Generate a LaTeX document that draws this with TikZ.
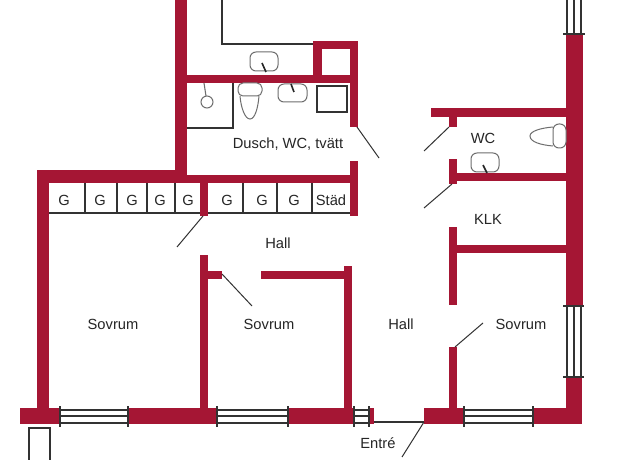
\documentclass[tikz,border=0pt]{standalone}
\usepackage{fontspec}
\setmainfont{Liberation Sans}
\definecolor{wallred}{RGB}{165,22,52}
\definecolor{inkdark}{RGB}{50,50,50}
\definecolor{fixgray}{RGB}{110,110,110}
\tikzset{
  wall/.style={fill=wallred,draw=none},
  thinline/.style={draw=inkdark,line width=1.1pt},
  doorline/.style={draw=inkdark,line width=1pt},
  fixture/.style={draw=fixgray,line width=1pt,fill=white},
  tick/.style={draw=black!85,line width=1.6pt},
  label/.style={font=\fontsize{14.7}{16}\selectfont,text=black!85,inner sep=0pt}
}
\newcommand{\hwin}[2]{%
  \draw[thinline] (#1,410)--(#2,410) (#1,416)--(#2,416) (#1,423)--(#2,423);
  \draw[thinline] (#1,406)--(#1,427) (#2,406)--(#2,427);}
\newcommand{\vwin}[2]{%
  \draw[thinline] (567,#1)--(567,#2) (574,#1)--(574,#2) (581,#1)--(581,#2);}
\begin{document}
\begin{tikzpicture}[x=1pt,y=-1pt]
\useasboundingbox (0,0) rectangle (625,460);
\fill[white] (0,0) rectangle (625,460);
% closets
\draw[thinline] (49,213)--(350,213);
\foreach \x in {85,117,147,175,243,277,312} \draw[thinline] (\x,183)--(\x,213);
% walls
\fill[wall] (175,0) rectangle (187,183);
\fill[wall] (37,170) rectangle (187,183);
\fill[wall] (187,175) rectangle (350,183);
\fill[wall] (37,170) rectangle (49,410);
\fill[wall] (187,75) rectangle (358,83);
\fill[wall] (313,41) rectangle (358,49);
\fill[wall] (313,41) rectangle (322,83);
\fill[wall] (350,41) rectangle (358,127);
\fill[wall] (350,161) rectangle (358,216);
\fill[wall] (200,175) rectangle (208,216);
\fill[wall] (200,255) rectangle (208,410);
\fill[wall] (200,271) rectangle (222,279);
\fill[wall] (261,271) rectangle (345,279);
\fill[wall] (344,266) rectangle (352,410);
% bottom wall
\fill[wall] (20,408) rectangle (60,424);
\fill[wall] (128,408) rectangle (217,424);
\fill[wall] (288,408) rectangle (354,424);
\fill[wall] (369,408) rectangle (374,424);
\fill[wall] (424,408) rectangle (464,424);
\fill[wall] (533,408) rectangle (582,424);
% right wall
\fill[wall] (566,34) rectangle (583,306);
\fill[wall] (566,377) rectangle (582,424);
% right rooms
\fill[wall] (431,108) rectangle (566,117);
\fill[wall] (449,108) rectangle (457,127);
\fill[wall] (449,159) rectangle (457,184);
\fill[wall] (449,173) rectangle (566,181);
\fill[wall] (449,227) rectangle (457,305);
\fill[wall] (449,245) rectangle (566,253);
\fill[wall] (449,347) rectangle (457,410);
% windows
\hwin{60}{128}
\hwin{217}{288}
\hwin{354}{369}
\hwin{464}{533}
\vwin{0}{34}
\vwin{306}{377}
\draw[thinline] (563,34)--(585,34);
\draw[thinline] (563,306)--(584,306) (563,377)--(584,377);
% entrance threshold
\draw[thinline] (374,422)--(424,422);
% doors
\coordinate (dA1) at (357,127); \coordinate (dA2) at (379,158);
\coordinate (dB1) at (449,127); \coordinate (dB2) at (424,151);
\coordinate (dC1) at (452,184); \coordinate (dC2) at (424,208);
\coordinate (dD1) at (203,216); \coordinate (dD2) at (177,247);
\coordinate (dE1) at (222,274); \coordinate (dE2) at (252,306);
\coordinate (dF1) at (455,347); \coordinate (dF2) at (483,323);
\coordinate (dG1) at (424,422); \coordinate (dG2) at (402,457);
\foreach \n in {A,B,C,D,E,F,G} \draw[doorline] (d\n1)--(d\n2);
% upper room line
\draw[thinline] (222,0)--(222,44)--(313,44);
% shower
\draw[thinline] (187,128)--(233,128)--(233,83);
\draw[fixture] (207,102) circle (6);
\draw[thinline,draw=fixgray] (204,83)--(206,96);
% sinks
\draw[fixture,rounded corners=6pt] (250,52) rectangle (278,71);
\draw[tick] (262,63)--(266,72);
\draw[fixture,rounded corners=6pt] (278,84) rectangle (307,102);
\draw[tick] (291,84)--(294,92);
\draw[fixture,rounded corners=6pt] (471,153) rectangle (499,172);
\draw[tick] (483,165)--(487,173);
% toilets
\draw[fixture] (240,96) .. controls (241,108) and (245,119) .. (250,119) .. controls (255,119) and (258,108) .. (259,96);
\draw[fixture,rounded corners=5pt] (238,83) rectangle (262,96);
\draw[fixture] (553,127) .. controls (541,128) and (530,131) .. (530,136) .. controls (530,142) and (541,145) .. (553,146);
\draw[fixture,rounded corners=6pt] (553,124) rectangle (566,148);
% washer
\draw[thinline] (317,86) rectangle (347,112);
% outside box
\draw[thinline] (29,460)--(29,428)--(50,428)--(50,460);
% labels
\node[label] (g1) at (64,200) {G};
\node[label] (g2) at (100,200) {G};
\node[label] (g3) at (132,200) {G};
\node[label] (g4) at (160,200) {G};
\node[label] (g5) at (188,200) {G};
\node[label] (g6) at (227,200) {G};
\node[label] (g7) at (262,200) {G};
\node[label] (g8) at (294,200) {G};
\node[label] (stad) at (331,200) {Städ};
\node[label] (dusch) at (288,144) {Dusch, WC, tvätt};
\node[label] (wc) at (483,138) {WC};
\node[label] (klk) at (488,219) {KLK};
\node[label] (hall1) at (278,243) {Hall};
\node[label] (hall2) at (401,324) {Hall};
\node[label] (sov1) at (113,324) {Sovrum};
\node[label] (sov2) at (269,324) {Sovrum};
\node[label] (sov3) at (521,324) {Sovrum};
\node[label] (entre) at (378,443) {Entré};
\end{tikzpicture}
\end{document}
